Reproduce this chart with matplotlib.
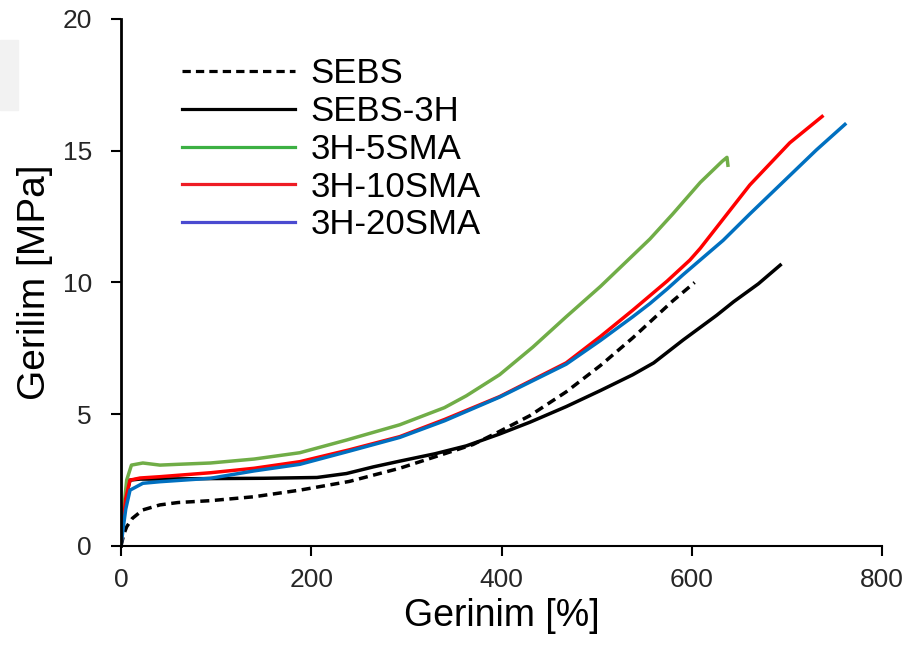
import matplotlib.pyplot as plt
from matplotlib.lines import Line2D
from matplotlib.patches import Rectangle

plt.rcParams['font.family'] = ['Liberation Sans', 'DejaVu Sans']

# SEBS (dashed)
sebs_x = [0, 3, 6, 12, 23, 41, 60, 94, 140, 188, 240, 293, 340, 370, 398, 430, 468, 504, 538, 556, 580, 603]
sebs_y = [0, 0.45, 0.73, 1.05, 1.37, 1.56, 1.65, 1.72, 1.87, 2.12, 2.45, 2.95, 3.5, 3.85, 4.35, 4.95, 5.85, 6.85, 7.9, 8.5, 9.3, 10.0]

# SEBS-3H
h3_x = [0, 3, 6, 9.5, 20, 41, 68, 100, 150, 206, 237, 265, 293, 330, 363, 398, 430, 468, 504, 538, 560, 591, 626, 644, 670, 693]
h3_y = [0, 1.2, 2.0, 2.5, 2.54, 2.54, 2.55, 2.56, 2.57, 2.6, 2.75, 3.0, 3.22, 3.5, 3.8, 4.25, 4.7, 5.29, 5.9, 6.5, 6.95, 7.82, 8.75, 9.27, 9.95, 10.66]

# 3H-5SMA
s5_x = [0, 2.4, 6, 11, 23, 41, 60, 94, 140, 188, 237, 293, 340, 363, 398, 433, 468, 504, 530, 556, 580, 609, 632, 637, 638]
s5_y = [0, 1.24, 2.5, 3.07, 3.15, 3.07, 3.1, 3.15, 3.3, 3.54, 4.02, 4.6, 5.25, 5.7, 6.5, 7.55, 8.7, 9.85, 10.75, 11.65, 12.6, 13.8, 14.6, 14.75, 14.45]

# 3H-10SMA
s10_x = [0, 2.4, 5, 9.5, 20, 41, 94, 140, 188, 240, 293, 340, 398, 468, 504, 538, 556, 574, 598, 609, 661, 703, 737]
s10_y = [0, 0.9, 1.8, 2.5, 2.58, 2.63, 2.78, 2.95, 3.2, 3.65, 4.15, 4.8, 5.67, 6.95, 7.95, 8.95, 9.5, 10.05, 10.85, 11.3, 13.7, 15.3, 16.3]

# 3H-20SMA
s20_x = [0, 2.4, 5, 9.5, 23, 41, 94, 140, 188, 240, 293, 340, 398, 468, 504, 538, 556, 574, 591, 612, 633, 661, 731, 761]
s20_y = [0, 0.7, 1.4, 2.12, 2.38, 2.44, 2.57, 2.85, 3.1, 3.6, 4.12, 4.75, 5.65, 6.9, 7.8, 8.7, 9.2, 9.75, 10.3, 10.95, 11.6, 12.6, 15.03, 16.0]

labels = ['SEBS', 'SEBS-3H', '3H-5SMA', '3H-10SMA', '3H-20SMA']

fig = plt.figure(figsize=(9.11, 6.46), dpi=100)
ax = fig.add_axes([0.1328, 0.1548, 0.8354, 0.8158])
fig.patches.append(Rectangle((0, 0.83), 0.02, 0.108, transform=fig.transFigure,
                             color='#f2f2f2', zorder=0))

lw = 2.5
ax.plot(sebs_x, sebs_y, color='black', lw=lw, dashes=(2.6, 1.6))
ax.plot(h3_x, h3_y, color='black', lw=lw)
ax.plot(s5_x, s5_y, color='#70ad47', lw=lw)
ax.plot(s10_x, s10_y, color='#ff0000', lw=lw)
ax.plot(s20_x, s20_y, color='#0070c0', lw=lw)

handles = [
    Line2D([], [], color='black', lw=2.3, dashes=(2.6, 1.6)),
    Line2D([], [], color='black', lw=2.3),
    Line2D([], [], color='#3cb043', lw=2.3),
    Line2D([], [], color='#ee1c24', lw=2.3),
    Line2D([], [], color='#4a4ad0', lw=2.3),
]
ax.legend(handles, labels, loc='upper left', bbox_to_anchor=(0.08, 0.928),
          frameon=False, fontsize=25, handlelength=3.25, handletextpad=0.46,
          labelspacing=0.14, borderpad=0, borderaxespad=0)

ax.set_xlim(0, 800)
ax.set_ylim(0, 20)
ax.set_xticks([0, 200, 400, 600, 800])
ax.set_yticks([0, 5, 10, 15, 20])
ax.spines['top'].set_visible(False)
ax.spines['right'].set_visible(False)
ax.spines['left'].set_linewidth(2)
ax.spines['bottom'].set_linewidth(1.5)
ax.tick_params(direction='out', length=7, width=1.5, labelsize=19,
               labelcolor='#262626')
ax.tick_params(axis='y', pad=14)
ax.tick_params(axis='x', pad=9)
ax.set_xlabel('Gerinim [%]', fontsize=27, labelpad=4)
ax.set_ylabel('Gerilim [MPa]', fontsize=28, labelpad=7)

fig.savefig('out.png', dpi=100)
